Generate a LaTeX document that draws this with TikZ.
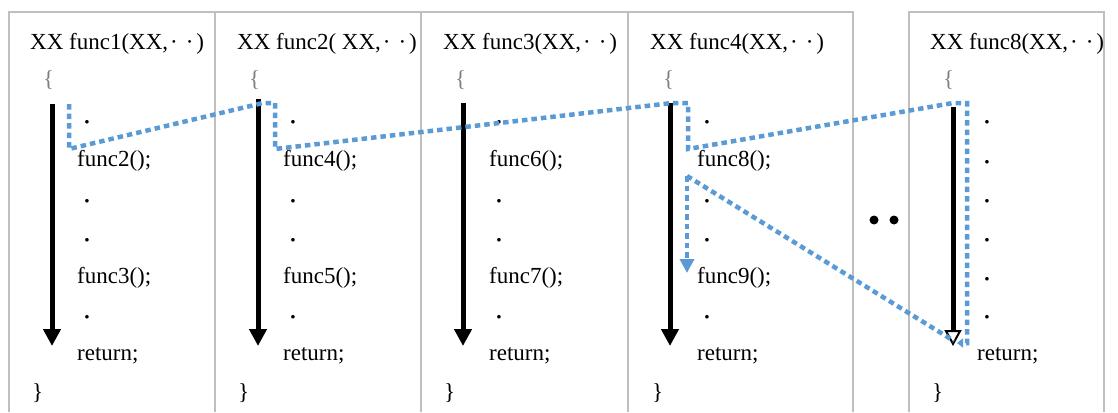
\documentclass[tikz,border=0pt]{standalone}
\usepackage{fontspec}
\setmainfont{Liberation Serif}
\usetikzlibrary{arrows.meta}
\definecolor{routeblue}{HTML}{5B9BD5}
\definecolor{framegray}{HTML}{BFBFBF}
\newcommand{\hdots}{\kern2pt·\kern8pt·\kern3pt}
\begin{document}
\begin{tikzpicture}[x=1pt,y=-1pt,
  code/.style={font=\fontsize{23}{27}\selectfont, inner sep=0pt, anchor=base west},
  dotc/.style={font=\fontsize{22}{26}\selectfont\bfseries, inner sep=0pt, anchor=base},
  brace/.style={code, text=gray},
  frame/.style={draw=framegray, line width=1.8pt},
  flow/.style={line width=5pt, -{Triangle[length=17pt,width=17pt]}},
  flowopen/.style={line width=5pt, -{Triangle[open,length=16pt,width=17pt,line width=2pt]}},
  route/.style={draw=routeblue, line width=4.5pt, dash pattern=on 5.5pt off 4pt},
  bigdot/.style={circle, fill=black, inner sep=0pt, minimum size=9pt},
]
\useasboundingbox (0,0) rectangle (1118,412);

% frames
\draw[frame] (9,412) -- (9,12) -- (853,12) -- (853,412);
\draw[frame] (215,12) -- (215,412);
\draw[frame] (421,12) -- (421,412);
\draw[frame] (628,12) -- (628,412);
\draw[frame] (909,412) -- (909,12) -- (1104,12) -- (1104,412);

% panel 1
\node[code] (h1) at (30,49) {XX func1(XX,\hdots)};
\node[brace] (o1) at (43,86) {\{};
\node[dotc] (a1) at (87,129) {·};
\node[code] (b1) at (77,166) {func2();};
\node[dotc] (c1) at (87,208) {·};
\node[dotc] (d1) at (87,247) {·};
\node[code] (e1) at (77,283) {func3();};
\node[dotc] (f1) at (87,324) {·};
\node[code] (r1) at (77,360) {return;};
\node[code] (z1) at (32,399) {\}};

% panel 2
\node[code] (h2) at (237,49) {XX func2( XX,\hdots)};
\node[brace] (o2) at (249,86) {\{};
\node[dotc] (a2) at (293,129) {·};
\node[code] (b2) at (283,166) {func4();};
\node[dotc] (c2) at (293,208) {·};
\node[dotc] (d2) at (293,247) {·};
\node[code] (e2) at (283,283) {func5();};
\node[dotc] (f2) at (293,324) {·};
\node[code] (r2) at (283,360) {return;};
\node[code] (z2) at (238,399) {\}};

% panel 3
\node[code] (h3) at (443,49) {XX func3(XX,\hdots)};
\node[brace] (o3) at (455,86) {\{};
\node[dotc] (a3) at (499,129) {·};
\node[code] (b3) at (489,166) {func6();};
\node[dotc] (c3) at (499,208) {·};
\node[dotc] (d3) at (499,247) {·};
\node[code] (e3) at (489,283) {func7();};
\node[dotc] (f3) at (499,324) {·};
\node[code] (r3) at (489,360) {return;};
\node[code] (z3) at (444,399) {\}};

% panel 4
\node[code] (h4) at (650,49) {XX func4(XX,\hdots)};
\node[brace] (o4) at (663,86) {\{};
\node[dotc] (a4) at (707,129) {·};
\node[code] (b4) at (697,166) {func8();};
\node[dotc] (c4) at (707,208) {·};
\node[dotc] (d4) at (707,247) {·};
\node[code] (e4) at (697,283) {func9();};
\node[dotc] (f4) at (707,324) {·};
\node[code] (r4) at (697,360) {return;};
\node[code] (z4) at (652,399) {\}};

% ellipsis between panels
\node[bigdot] (g1) at (874,220) {};
\node[bigdot] (g2) at (894,220) {};

% panel 8
\node[code] (h8) at (930,49) {XX func8(XX,\hdots)};
\node[brace] (o8) at (943,86) {\{};
\node[dotc] (a8) at (987,129) {·};
\node[dotc] (b8) at (987,169) {·};
\node[dotc] (c8) at (987,208) {·};
\node[dotc] (d8) at (987,247) {·};
\node[dotc] (e8) at (987,286) {·};
\node[dotc] (f8) at (987,324) {·};
\node[code] (r8) at (977,360) {return;};
\node[code] (z8) at (932,399) {\}};

% execution flow (solid black)
\coordinate (s1) at (52,104);  \coordinate (t1) at (52,346);
\coordinate (s2) at (258,99);  \coordinate (t2) at (258,346);
\coordinate (s3) at (463,103); \coordinate (t3) at (463,346);
\coordinate (s4) at (670,103); \coordinate (t4) at (670,346);
\coordinate (s8) at (953,107); \coordinate (t8) at (953,346);
\draw[flow] (s1) -- (t1);
\draw[flow] (s2) -- (t2);
\draw[flow] (s3) -- (t3);
\draw[flow] (s4) -- (t4);
\draw[flowopen] (s8) -- (t8);

% route (dotted blue)
\coordinate (p1) at (69,104);
\coordinate (p2) at (69,149);
\coordinate (p3) at (263,103);
\coordinate (p4) at (275,103);
\coordinate (p5) at (275,149);
\coordinate (p6) at (672,103);
\coordinate (p7) at (688,103);
\coordinate (p8) at (688,149);
\coordinate (p9) at (953,103);
\coordinate (p10) at (967,103);
\coordinate (p11) at (967,343);
\coordinate (p12) at (957,343);
\draw[route, -{Triangle[length=6pt,width=9pt]}] (p1) -- (p2) -- (p3) -- (p4) -- (p5) -- (p6) -- (p7) -- (p8) -- (p9) -- (p10) -- (p11) -- (p12);

\coordinate (q1) at (687,176);
\coordinate (q2) at (687,273);
\coordinate (q3) at (954,341);
\draw[route, -{Triangle[length=14pt,width=14pt]}] (q1) -- (q2);
\draw[route] (q1) -- (q3);
\end{tikzpicture}
\end{document}
